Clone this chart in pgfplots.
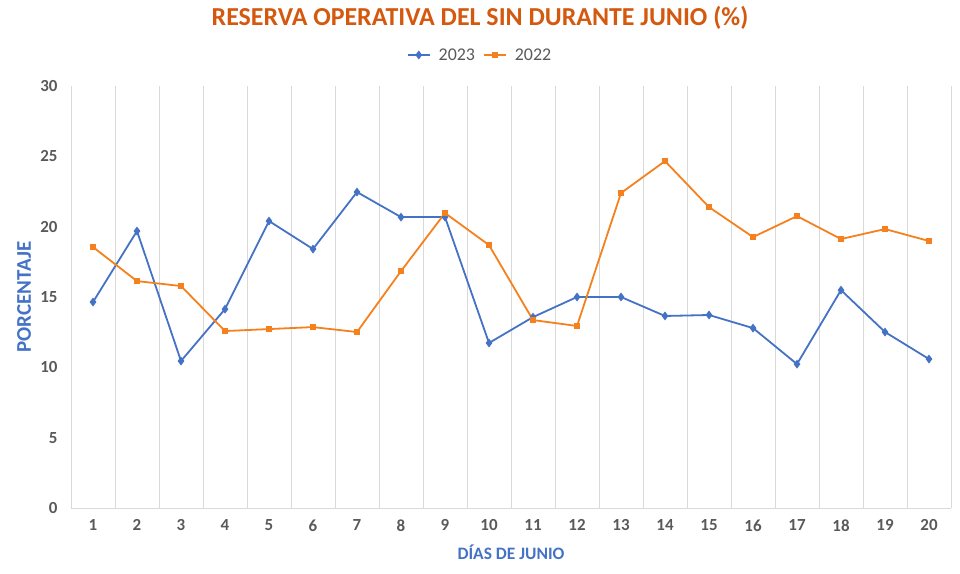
\documentclass[border=0pt]{standalone}
\usepackage{pgfplots}
\pgfplotsset{compat=1.18}
\usepackage{fontspec}
\setmainfont{Carlito}
\definecolor{c23}{RGB}{68,114,196}
\definecolor{c22}{RGB}{245,128,30}
\definecolor{ttl}{RGB}{212,88,13}
\definecolor{tk}{RGB}{89,89,89}
\definecolor{grd}{RGB}{217,217,217}
\begin{document}
\begin{tikzpicture}
\begin{axis}[
  scale only axis,
  width=880bp, height=422bp,
  xmin=0.5, xmax=20.5, ymin=0, ymax=30,
  xtick={1,...,20},
  ytick={0,5,...,30},
  minor xtick={0.5,1.5,...,20.5},
  xminorgrids=true,
  minor grid style={grd, line width=0.8bp},
  major tick length=0pt, minor tick length=0pt,
  axis x line=bottom, axis y line=left,
  x axis line style={grd, line width=1bp, -},
  y axis line style={draw=none},
  /pgf/number format/assume math mode=true,
  tick label style={font=\fontsize{17}{19}\selectfont\bfseries, text=tk},
  yticklabel style={xshift=-10bp},
  xticklabel style={yshift=-8bp},
  xlabel={DÍAS DE JUNIO},
  ylabel={PORCENTAJE},
  label style={font=\fontsize{17.5}{19}\selectfont\bfseries, text=c23},
  xlabel style={at={(axis description cs:0.5,0)}, anchor=center, yshift=-44bp},
  ylabel style={at={(axis description cs:0,0.5)}, anchor=center, rotate=0, yshift=47bp, font=\fontsize{21}{23}\selectfont\bfseries},
  title={RESERVA OPERATIVA DEL SIN DURANTE JUNIO (\%)},
  title style={font=\fontsize{26}{28}\selectfont\bfseries, text=ttl, at={(axis description cs:0.4648,1)}, anchor=center, yshift=62bp},
  legend style={at={(axis description cs:0.4648,1)}, anchor=center, yshift=31bp, draw=none, fill=none,
    font=\fontsize{18}{20}\selectfont, text=tk, column sep=6bp},
  legend columns=2,
  legend image code/.code={\draw[#1] (0bp,0bp) -- (22bp,0bp); \draw[#1, only marks] plot coordinates {(11bp,0bp)};},
]
\coordinate (ll) at (rel axis cs:0,0);
\coordinate (ur) at (rel axis cs:1,1);
\addplot[c23, line width=1.8bp, mark=diamond*, mark size=3bp, mark options={fill=c23}] coordinates {
(1,14.64) (2,19.69) (3,10.45) (4,14.14) (5,20.4) (6,18.41) (7,22.46) (8,20.68) (9,20.68) (10,11.73)
(11,13.57) (12,15.0) (13,15.0) (14,13.65) (15,13.72) (16,12.79) (17,10.23) (18,15.49) (19,12.51) (20,10.59)};
\addlegendentry{2023}
\addplot[c22, line width=1.8bp, mark=square*, mark size=2.3bp, mark options={fill=c22}] coordinates {
(1,18.55) (2,16.13) (3,15.78) (4,12.58) (5,12.72) (6,12.86) (7,12.51) (8,16.84) (9,20.97) (10,18.69)
(11,13.36) (12,12.94) (13,22.39) (14,24.66) (15,21.39) (16,19.26) (17,20.75) (18,19.12) (19,19.83) (20,18.98)};
\addlegendentry{2022}
\end{axis}
\pgfresetboundingbox
\path ([xshift=-71bp,yshift=-66bp]ll) rectangle ([xshift=9bp,yshift=86bp]ur);
\end{tikzpicture}
\end{document}
